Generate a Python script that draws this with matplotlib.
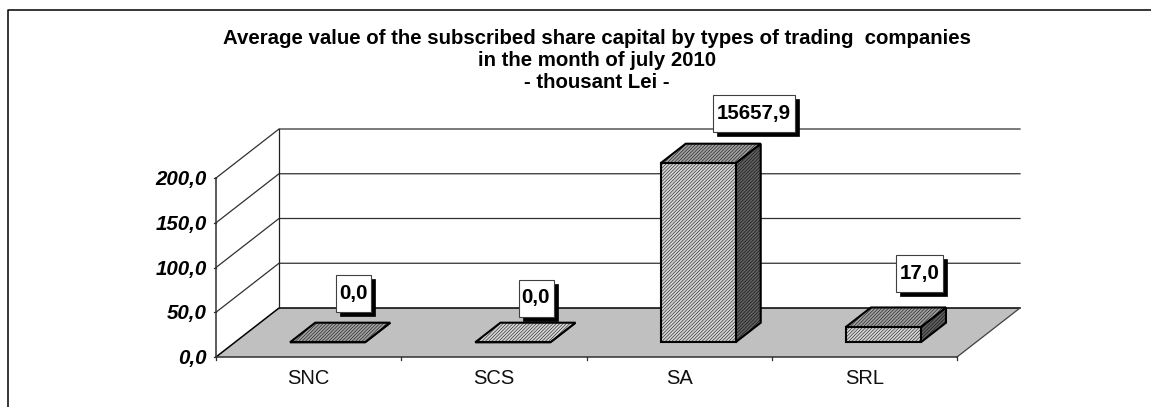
import matplotlib
matplotlib.use("Agg")
import matplotlib.pyplot as plt
from matplotlib.patches import Polygon, Rectangle

plt.rcParams['font.family'] = ['Liberation Sans', 'DejaVu Sans']
plt.rcParams['hatch.linewidth'] = 0.35

categories = ["SNC", "SCS", "SA", "SRL"]
values = [0.0, 0.0, 15657.9, 17.0]
value_labels = ["0,0", "0,0", "15657,9", "17,0"]
y_ticks = [0, 50, 100, 150, 200]
y_labels = ["0,0", "50,0", "100,0", "150,0", "200,0"]
title_lines = ["Average value of the subscribed share capital by types of trading  companies",
               "in the month of july 2010",
               "- thousant Lei -"]

W, H = 1151, 407
fig = plt.figure(figsize=(W / 100, H / 100), dpi=100)
# axes = front plane of the 3d box
ax = fig.add_axes([216 / W, 1 - 357 / H, (957 - 216) / W, (357 - 178) / H])
ax.set_xlim(0, 4)
ax.set_ylim(0, 200)
ax.axis("off")

DX = 63 / (741 / 4)   # depth in category units
DY = 49 / (179 / 200)  # depth in value units
PX = 4 / 741
PY = 200 / 179
FINE = "/" * 10


def proj(x, y, d=0.0):
    return (x + d * DX, y + d * DY)


def poly(pts, **kw):
    p = Polygon(pts, closed=True, clip_on=False, **kw)
    ax.add_patch(p)
    return p


# floor
poly([proj(0, 0), proj(4, 0), proj(4, 0, 1), proj(0, 0, 1)], fc="#c0c0c0", ec="none", zorder=1)

# grid lines, back wall and left wall
for t in y_ticks[1:]:
    a, b, c = proj(0, t), proj(0, t, 1), proj(4, t, 1)
    ax.plot([a[0], b[0], c[0]], [a[1], b[1], c[1]], color="#303030", lw=0.9, clip_on=False, zorder=2)
a, b, c = proj(0, 0), proj(0, 0, 1), proj(4, 0, 1)
ax.plot([a[0], b[0], c[0]], [a[1], b[1], c[1]], color="black", lw=1.1, clip_on=False, zorder=2)
a, b = proj(4, 0), proj(4, 0, 1)
ax.plot([a[0], b[0]], [a[1], b[1]], color="#404040", lw=0.9, clip_on=False, zorder=2)
a, b = proj(0, 0, 1), proj(0, 200, 1)
ax.plot([a[0], b[0]], [a[1], b[1]], color="#202020", lw=0.9, clip_on=False, zorder=2)

# front axis lines and ticks
ax.plot([0, 0], [0, 200], color="#303030", lw=1.1, clip_on=False, zorder=3)
ax.plot([0, 4], [0, 0], color="#303030", lw=1.1, clip_on=False, zorder=3)
for t, lab in zip(y_ticks, y_labels):
    ax.plot(*zip(proj(0, t), proj(-2 * PX, t)), color="#303030", lw=0.9, clip_on=False, zorder=3)
    ax.text(-9 * PX, t - 1.5 * PY, lab, ha="right", va="center",
            fontsize=14.8, fontweight="bold", fontstyle="italic", zorder=5)
for i in range(5):
    ax.plot([i, i], [0, -3], color="#303030", lw=0.9, clip_on=False, zorder=3)
for i, c in enumerate(categories):
    ax.text(i + 0.5, -24, c, ha="center", va="center", fontsize=14.5, color="#101010", zorder=5)

# bars, clipped at the axis maximum as in the source chart
bar_w = 75 * PX
d0, d1 = 0.3, 0.7
for i, v in enumerate(values):
    h = min(v, 200)
    x0 = i + 0.5 - bar_w / 2
    x1 = x0 + bar_w
    edge = dict(ec="black", lw=1.5, joinstyle="miter", zorder=4)
    top_fc = "#d4d4d4" if i == 1 else "#a0a0a0"
    poly([proj(x1, 0, d0), proj(x1, 0, d1), proj(x1, h, d1), proj(x1, h, d0)],
         fc="#606060", hatch=FINE, **edge)
    poly([proj(x0, h, d0), proj(x1, h, d0), proj(x1, h, d1), proj(x0, h, d1)],
         fc=top_fc, hatch=FINE, **edge)
    poly([proj(x0, 0, d0), proj(x1, 0, d0), proj(x1, h, d0), proj(x0, h, d0)],
         fc="#d4d4d4", hatch=FINE, **edge)

# value labels with solid drop shadow, centres in px of the picture
label_px = [(353.5, 293), (536, 298), (754, 113.5), (919.5, 273)]
label_w = [35, 35, 82, 47]
label_h = 37
for (px, py), lw_px, txt in zip(label_px, label_w, value_labels):
    lx = (px - 216) * PX
    ly = (357 - py) * PY
    w = lw_px * PX
    hh = label_h * PY
    ax.add_patch(Rectangle((lx - w / 2 + 4 * PX, ly - hh / 2 - 4 * PY), w, hh, fc="black",
                           ec="black", lw=0.5, clip_on=False, zorder=6))
    ax.add_patch(Rectangle((lx - w / 2, ly - hh / 2), w, hh, fc="white",
                           ec="#404040", lw=0.8, clip_on=False, zorder=7))
    ax.text(lx, ly, txt, ha="center", va="center", fontsize=14.8, fontweight="bold", zorder=8)

# title
for line, yy in zip(title_lines, [38.5, 60.5, 82.5]):
    fig.text(597 / W, 1 - yy / H, line, ha="center", va="center", fontsize=14.7, fontweight="bold")

# chart border, only top and left are inside the picture
fig.add_artist(plt.Line2D([8 / W, 8 / W, 1], [0, 1 - 10 / H, 1 - 10 / H], transform=fig.transFigure,
                          color="black", lw=1.1))

fig.savefig("out.png", dpi=100)
